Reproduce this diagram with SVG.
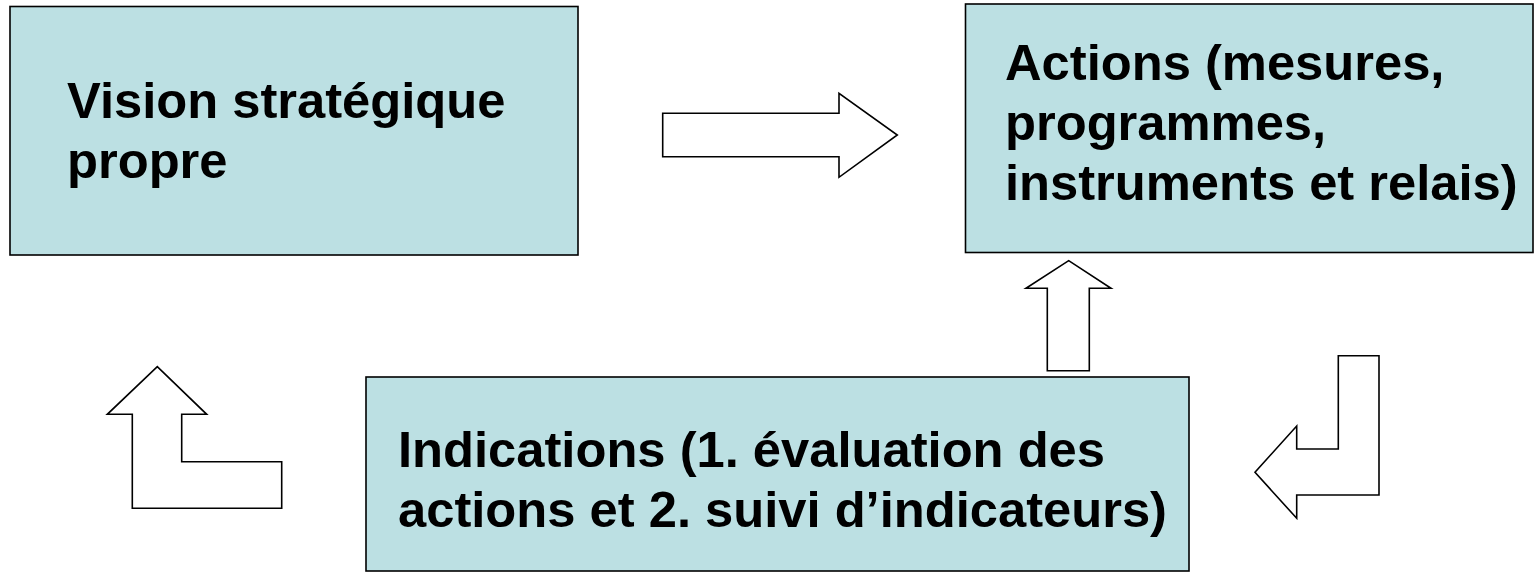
<svg xmlns="http://www.w3.org/2000/svg" width="1534" height="572" viewBox="0 0 1534 572">
<style>
.box{fill:#BCE0E3;stroke:#000;stroke-width:1.6}
.lbl{font-family:"Liberation Sans",Arial,sans-serif;font-weight:bold;font-size:50.7px;fill:#000}
.arr{fill:#fff;stroke:#000;stroke-width:1.6;stroke-linejoin:miter}
</style>
<rect width="1534" height="572" fill="#fff"/>
<g id="vision">
<rect class="box" x="10" y="6.5" width="568" height="248.5"/>
<text class="lbl" x="67" y="117.5">Vision stratégique</text>
<text class="lbl" x="67" y="177.5">propre</text>
</g>
<g id="actions">
<rect class="box" x="965.5" y="4" width="567.5" height="248.5"/>
<text class="lbl" x="1005" y="80">Actions (mesures,</text>
<text class="lbl" x="1005" y="140">programmes,</text>
<text class="lbl" x="1005" y="200">instruments et relais)</text>
</g>
<g id="indications">
<rect class="box" x="366" y="377" width="823" height="194"/>
<text class="lbl" x="398" y="466.5">Indications (1. évaluation des</text>
<text class="lbl" x="398" y="526.5">actions et 2. suivi d’indicateurs)</text>
</g>
<g id="connectors">
<path class="arr" d="M662.7,113.3 H839 V93.3 L897.3,135 L839,177.3 V156.7 H662.7 Z"/>
<path class="arr" d="M1047.3,370.7 V288.3 H1026 L1068.7,260.7 L1111,288.3 H1089.3 V370.7 Z"/>
<path class="arr" d="M1338.3,355.7 H1379 V495 H1296.7 V518.3 L1255,472.3 L1296.7,426 V449 H1338.3 Z"/>
<path class="arr" d="M281.7,508.3 H132.3 V414.3 H107.3 L157.3,366.7 L206.7,414.3 H181.7 V461.7 H281.7 Z"/>
</g>
</svg>
